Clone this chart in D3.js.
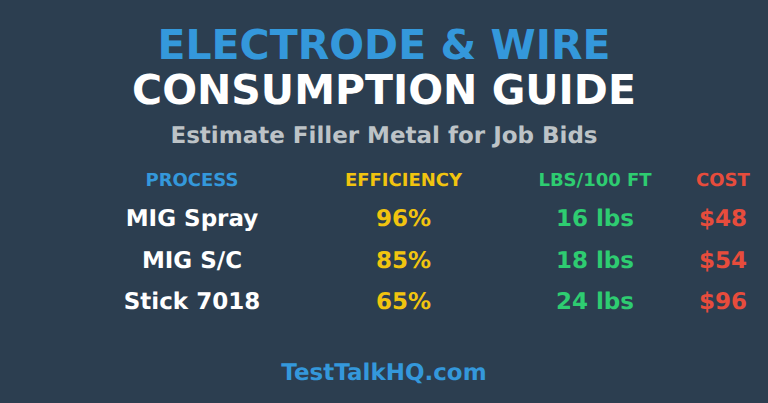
<!DOCTYPE html>
<html>
<head>
<meta charset="utf-8">
<script src="https://cdn.jsdelivr.net/npm/d3@7"></script>
<style>
html, body { margin: 0; padding: 0; background: #2c3e50; }
svg { display: block; }
text { font-family: "DejaVu Sans"; font-weight: bold; text-anchor: middle; text-rendering: geometricPrecision; }
</style>
</head>
<body>
<script>
// table contents
var columns = ["PROCESS", "EFFICIENCY", "LBS/100 FT", "COST"];
var processes = ["MIG Spray", "MIG S/C", "Stick 7018"];
var efficiency = [96, 85, 65];
var lbs = [16, 18, 24];
var cost = [48, 54, 96];

var WIDTH = 768, HEIGHT = 403;
var COL_COLORS = ["#3498db", "#f1c40f", "#2ecc71", "#e74c3c"];
var COL_X = [192, 403.5, 595, 723];

var svg = d3.select("body").append("svg")
	.attr("width", WIDTH)
	.attr("height", HEIGHT);

var titles = [
	{t: "ELECTRODE & WIRE", y: 59, s: 41, c: "#3498db"},
	{t: "CONSUMPTION GUIDE", y: 104, s: 41, c: "#ffffff"},
	{t: "Estimate Filler Metal for Job Bids", y: 143, s: 23, c: "#bdc3c7"},
	{t: "TestTalkHQ.com", y: 380, s: 23, c: "#3498db"}
];
svg.selectAll("text.title").data(titles).enter().append("text")
	.attr("class", "title")
	.attr("x", 384)
	.attr("y", function(d){return d.y;})
	.attr("font-size", function(d){return d.s;})
	.attr("fill", function(d){return d.c;})
	.text(function(d){return d.t;});

svg.selectAll("text.head").data(columns).enter().append("text")
	.attr("class", "head")
	.attr("x", function(d, i){return COL_X[i];})
	.attr("y", 186)
	.attr("font-size", 18)
	.attr("fill", function(d, i){return COL_COLORS[i];})
	.text(function(d){return d;});

var rowY = d3.scalePoint().domain(processes).range([226, 309]);

var rows = svg.selectAll("g.row").data(processes).enter().append("g")
	.attr("class", "row")
	.attr("transform", function(d){return "translate(0," + rowY(d) + ")";});

rows.each(function(d, i){
	var cells = [d, efficiency[i] + "%", lbs[i] + " lbs", "$" + cost[i]];
	d3.select(this).selectAll("text").data(cells).enter().append("text")
		.attr("x", function(c, j){return COL_X[j];})
		.attr("font-size", 23)
		.attr("fill", function(c, j){return j == 0 ? "#ffffff" : COL_COLORS[j];})
		.text(function(c){return c;});
});
</script>
</body>
</html>
